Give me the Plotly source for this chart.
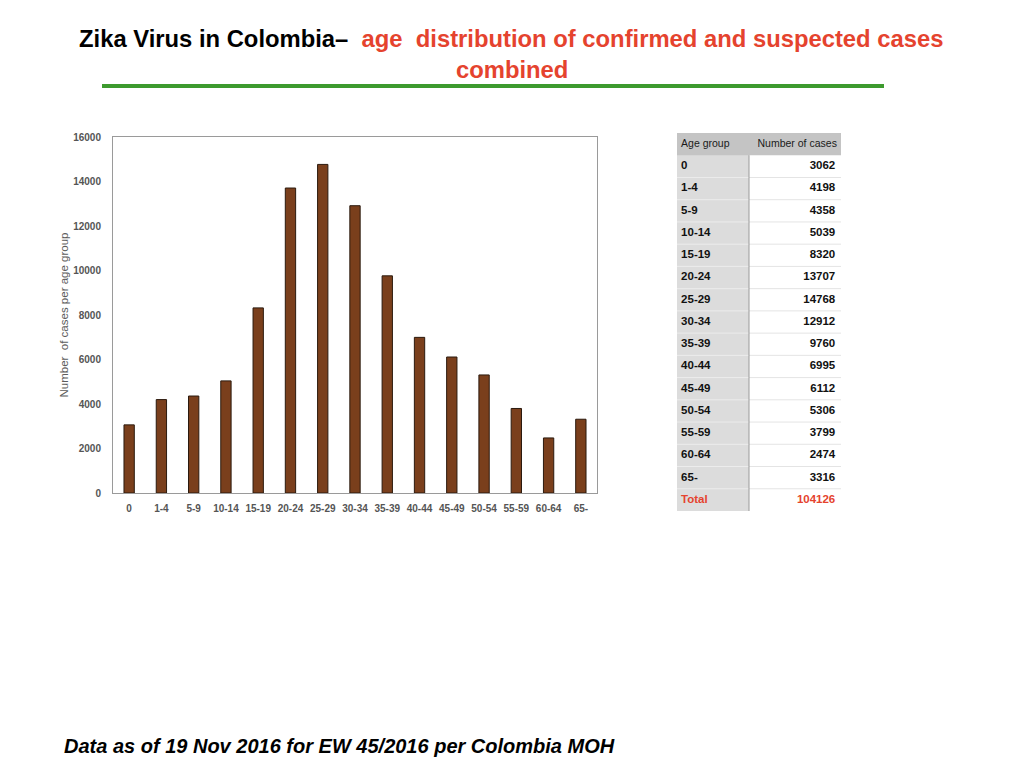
import plotly.graph_objects as go

# Data
age_groups = ["0", "1-4", "5-9", "10-14", "15-19", "20-24", "25-29", "30-34",
              "35-39", "40-44", "45-49", "50-54", "55-59", "60-64", "65-"]
cases = [3062, 4198, 4358, 5039, 8320, 13707, 14768, 12912,
         9760, 6995, 6112, 5306, 3799, 2474, 3316]
total_cases = 104126
y_ticks = [0, 2000, 4000, 6000, 8000, 10000, 12000, 14000, 16000]
table_header = ["Age group", "Number of cases"]

W, H = 1024, 768
OFF = 8  # page body margin
RED = "#e5432e"
GRAY_TXT = "#555555"
SPLIT = 72 / 164  # column split inside the table axis


def px_x(v):
    return (v - OFF) / W


def px_y(v):
    return (H - (v - OFF)) / H


fig = go.Figure()

# 1. Bar chart
fig.add_trace(go.Bar(
    x=age_groups, y=cases,
    marker=dict(color="#7a3f1c", line=dict(color="#2b1a0e", width=1)),
    width=0.32, showlegend=False, hoverinfo="x+y",
))

# 2. Table, drawn on its own pair of axes (rows are categories, top to bottom)
row_keys = ["hdr"] + age_groups + ["Total"]
body_keys = age_groups + ["Total"]
row_colors = ["#111111"] * len(age_groups) + [RED]
n_rows = len(row_keys)

fig.add_trace(go.Scatter(
    x=[0.025] * len(body_keys), y=body_keys, mode="text",
    text=["<b>%s</b>" % k for k in body_keys], textposition="middle right",
    textfont=dict(size=11.5, color=row_colors, family="Liberation Sans"),
    xaxis="x2", yaxis="y2", showlegend=False, hoverinfo="skip",
))
fig.add_trace(go.Scatter(
    x=[0.965] * len(body_keys), y=body_keys, mode="text",
    text=["<b>%d</b>" % v for v in cases + [total_cases]], textposition="middle left",
    textfont=dict(size=11.5, color=row_colors, family="Liberation Sans"),
    xaxis="x2", yaxis="y2", showlegend=False, hoverinfo="skip",
))
fig.add_trace(go.Scatter(
    x=[0.025, 0.975], y=["hdr", "hdr"], mode="text",
    text=table_header, textposition=["middle right", "middle left"],
    textfont=dict(size=10.5, color="#1a1a1a", family="Liberation Sans"),
    xaxis="x2", yaxis="y2", showlegend=False, hoverinfo="skip",
))

# table fills and rules
fig.add_shape(type="rect", xref="x2", yref="y2", layer="below",
              x0=0, x1=SPLIT, y0=-0.5, y1=n_rows - 0.5,
              fillcolor="#dcdcdc", line_width=0)
fig.add_shape(type="rect", xref="x2", yref="y2", layer="below",
              x0=0, x1=1, y0=-0.5, y1=0.5,
              fillcolor="#c4c4c4", line_width=0)
for i in range(1, n_rows - 1):
    fig.add_shape(type="line", xref="x2", yref="y2", layer="below",
                  x0=0, x1=SPLIT, y0=i + 0.5, y1=i + 0.5,
                  line=dict(color="#ececec", width=1))
    fig.add_shape(type="line", xref="x2", yref="y2", layer="below",
                  x0=SPLIT, x1=1, y0=i + 0.5, y1=i + 0.5,
                  line=dict(color="#e4e4e4", width=1))
fig.add_shape(type="line", xref="x2", yref="y2", layer="below",
              x0=SPLIT, x1=SPLIT, y0=0.5, y1=n_rows - 0.5,
              line=dict(color="#9a9a9a", width=1))

fig.update_layout(
    width=W, height=H,
    margin=dict(l=0, r=0, t=0, b=0, autoexpand=False),
    paper_bgcolor="white", plot_bgcolor="white",
    font=dict(family="Liberation Sans"),
    xaxis=dict(
        domain=[px_x(113), px_x(597)], automargin=False,
        showline=True, linecolor="#9a9a9a", linewidth=1, mirror=True,
        showgrid=False, ticks="outside", ticklen=6, tickcolor="white",
        tickprefix="<b>", ticksuffix="</b>",
        tickfont=dict(size=10, color=GRAY_TXT, family="Liberation Sans"),
        fixedrange=True,
    ),
    yaxis=dict(
        domain=[px_y(493), px_y(137)], automargin=False,
        range=[0, 16000], tickvals=y_ticks,
        ticktext=["<b>%d</b>" % v for v in y_ticks],
        showline=True, linecolor="#9a9a9a", linewidth=1, mirror=True,
        showgrid=False, ticks="outside", ticklen=9, tickcolor="white",
        tickfont=dict(size=10, color=GRAY_TXT, family="Liberation Sans"),
        title=dict(text="Number  of cases per age group", standoff=2,
                   font=dict(size=11.5, color="#5c5c5c")),
        fixedrange=True,
    ),
    xaxis2=dict(
        domain=[px_x(677), px_x(841)], anchor="y2", range=[0, 1],
        visible=False, fixedrange=True, automargin=False,
    ),
    yaxis2=dict(
        domain=[px_y(511), px_y(133)], anchor="x2",
        type="category", categoryorder="array", categoryarray=row_keys,
        range=[n_rows - 0.5, -0.5], autorange=False,
        visible=False, fixedrange=True, automargin=False,
    ),
)

# 3. Title, rule and footer
fig.add_annotation(
    x=px_x(511), y=px_y(38), xref="paper", yref="paper",
    xanchor="center", yanchor="middle", showarrow=False,
    text=("<b>Zika Virus in Colombia–  <span style='color:%s'>age  distribution of "
          "confirmed and suspected cases</span></b>") % RED,
    font=dict(size=23.8, color="#000000", family="Liberation Sans"),
)
fig.add_annotation(
    x=px_x(512), y=px_y(70), xref="paper", yref="paper",
    xanchor="center", yanchor="middle", showarrow=False,
    text="<b>combined</b>",
    font=dict(size=23.8, color=RED, family="Liberation Sans"),
)
fig.add_shape(type="line", xref="paper", yref="paper",
              x0=px_x(102), x1=px_x(884), y0=px_y(86), y1=px_y(86),
              line=dict(color="#3d9a2e", width=4))
fig.add_annotation(
    x=px_x(62), y=px_y(746), xref="paper", yref="paper",
    xanchor="left", yanchor="middle", showarrow=False,
    text="<b><i>Data as of 19 Nov 2016 for EW 45/2016 per Colombia MOH</i></b>",
    font=dict(size=20, color="#000000", family="Liberation Sans"),
)

fig.write_html("out.html")
